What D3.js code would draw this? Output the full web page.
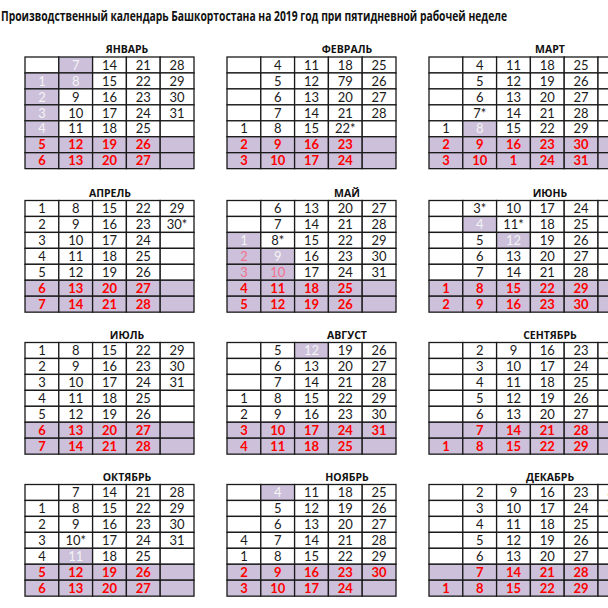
<!DOCTYPE html>
<html>
<head>
<meta charset="utf-8">
<script src="https://cdn.jsdelivr.net/npm/d3@7"></script>
<style>
  html, body { margin: 0; padding: 0; background: #fff; overflow: hidden; }
  svg { display: block; }
</style>
</head>
<body>
<svg id="chart" width="608" height="608"></svg>
<script>
const title = "Производственный календарь Башкортостана на 2019 год при пятидневной рабочей неделе";

const months = ["ЯНВАРЬ", "ФЕВРАЛЬ", "МАРТ", "АПРЕЛЬ", "МАЙ", "ИЮНЬ",
  "ИЮЛЬ", "АВГУСТ", "СЕНТЯБРЬ", "ОКТЯБРЬ", "НОЯБРЬ", "ДЕКАБРЬ"];

// each month: columns (weeks), each column = 7 cells Mon..Sun; "!" marks a holiday
const jan = [["", "1!", "2!", "3!", "4!", "5", "6"], ["7!", "8!", "9", "10", "11", "12", "13"],
  ["14", "15", "16", "17", "18", "19", "20"], ["21", "22", "23", "24", "25", "26", "27"],
  ["28", "29", "30", "31", "", "", ""]];
const feb = [["", "", "", "", "1", "2", "3"], ["4", "5", "6", "7", "8", "9", "10"],
  ["11", "12", "13", "14", "15", "16", "17"], ["18", "79", "20", "21", "22*", "23", "24"],
  ["25", "26", "27", "28", "", "", ""]];
const mar = [["", "", "", "", "1", "2", "3"], ["4", "5", "6", "7*", "8!", "9", "10"],
  ["11", "12", "13", "14", "15", "16", "1"], ["18", "19", "20", "21", "22", "23", "24"],
  ["25", "26", "27", "28", "29", "30", "31"], ["", "", "", "", "", "", ""]];
const apr = [["1", "2", "3", "4", "5", "6", "7"], ["8", "9", "10", "11", "12", "13", "14"],
  ["15", "16", "17", "18", "19", "20", "21"], ["22", "23", "24", "25", "26", "27", "28"],
  ["29", "30*", "", "", "", "", ""]];
const may = [["", "", "1!", "2!", "3!", "4", "5"], ["6", "7", "8*", "9!", "10!", "11", "12"],
  ["13", "14", "15", "16", "17", "18", "19"], ["20", "21", "22", "23", "24", "25", "26"],
  ["27", "28", "29", "30", "31", "", ""]];
const jun = [["", "", "", "", "", "1", "2"], ["3*", "4!", "5", "6", "7", "8", "9"],
  ["10", "11*", "12!", "13", "14", "15", "16"], ["17", "18", "19", "20", "21", "22", "23"],
  ["24", "25", "26", "27", "28", "29", "30"], ["", "", "", "", "", "", ""]];
const jul = [["1", "2", "3", "4", "5", "6", "7"], ["8", "9", "10", "11", "12", "13", "14"],
  ["15", "16", "17", "18", "19", "20", "21"], ["22", "23", "24", "25", "26", "27", "28"],
  ["29", "30", "31", "", "", "", ""]];
const aug = [["", "", "", "1", "2", "3", "4"], ["5", "6", "7", "8", "9", "10", "11"],
  ["12!", "13", "14", "15", "16", "17", "18"], ["19", "20", "21", "22", "23", "24", "25"],
  ["26", "27", "28", "29", "30", "31", ""]];
const sep = [["", "", "", "", "", "", "1"], ["2", "3", "4", "5", "6", "7", "8"],
  ["9", "10", "11", "12", "13", "14", "15"], ["16", "17", "18", "19", "20", "21", "22"],
  ["23", "24", "25", "26", "27", "28", "29"], ["30", "", "", "", "", "", ""]];
const oct = [["", "1", "2", "3", "4", "5", "6"], ["7", "8", "9", "10*", "11!", "12", "13"],
  ["14", "15", "16", "17", "18", "19", "20"], ["21", "22", "23", "24", "25", "26", "27"],
  ["28", "29", "30", "31", "", "", ""]];
const nov = [["", "", "", "4", "1", "2", "3"], ["4!", "5", "6", "7", "8", "9", "10"],
  ["11", "12", "13", "14", "15", "16", "17"], ["18", "19", "20", "21", "22", "23", "24"],
  ["25", "26", "27", "28", "29", "30", ""]];
const dec = [["", "", "", "", "", "", "1"], ["2", "3", "4", "5", "6", "7", "8"],
  ["9", "10", "11", "12", "13", "14", "15"], ["16", "17", "18", "19", "20", "21", "22"],
  ["23", "24", "25", "26", "27", "28", "29"], ["30", "31", "", "", "", "", ""]];

const grids = [jan, feb, mar, apr, may, jun, jul, aug, sep, oct, nov, dec];
const pinkDays = [[4, "2"], [4, "3"], [4, "10"]];
const weekendRows = [5, 6];

// layout
const colW = 33.8, rowH = 15.95;
const blockX = [25, 227, 429];
const blockY = [57, 200.5, 342.5, 484.5];
const labelX = [127, 347, 550];
const purple = "#ccc0da";

const svg = d3.select("#chart");

svg.append("text")
  .attr("x", 1).attr("y", 21)
  .attr("font-family", "Liberation Sans Narrow, Open Sans, sans-serif")
  .attr("font-weight", "bold")
  .attr("font-size", 14)
  .attr("textLength", 506)
  .attr("lengthAdjust", "spacingAndGlyphs")
  .attr("fill", "#111")
  .text(title);

grids.forEach((grid, m) => {
  const bx = blockX[m % 3], by = blockY[Math.floor(m / 3)];
  const x = d3.scaleBand().domain(d3.range(grid.length)).range([bx, bx + colW * grid.length]);
  const y = d3.scaleBand().domain(d3.range(7)).range([by, by + rowH * 7]);
  const g = svg.append("g");

  g.append("text")
    .attr("x", m === 3 ? 110 : labelX[m % 3])
    .attr("y", by - 4)
    .attr("text-anchor", "middle")
    .attr("font-family", "Open Sans, sans-serif")
    .attr("font-weight", "bold")
    .attr("font-size", 10.5)
    .attr("fill", "#111")
    .text(months[m]);

  const cells = [];
  grid.forEach((col, c) => col.forEach((v, r) => {
    const hol = v.endsWith("!");
    const label = hol ? v.slice(0, -1) : v;
    cells.push({ c, r, label, hol, wk: weekendRows.includes(r),
      pink: pinkDays.some(p => p[0] === m && p[1] === label) });
  }));

  const cell = g.selectAll("g.cell").data(cells).join("g").attr("class", "cell");

  cell.append("rect")
    .attr("x", d => x(d.c)).attr("y", d => y(d.r))
    .attr("width", x.bandwidth()).attr("height", y.bandwidth())
    .attr("fill", d => (d.wk || d.hol) ? purple : "#fff")
    .attr("stroke", "#1a1a1a")
    .attr("stroke-width", 1.3);

  cell.append("text")
    .attr("x", d => x(d.c) + x.bandwidth() / 2)
    .attr("y", d => y(d.r) + y.bandwidth() / 2)
    .attr("dy", "0.36em")
    .attr("text-anchor", "middle")
    .attr("font-family", "Lato, Open Sans, sans-serif")
    .attr("font-size", 13)
    .attr("font-weight", d => d.wk ? "bold" : "normal")
    .attr("fill", d => d.wk ? "#ff0000" : d.pink ? "#f07090" : d.hol ? "#f4f4f4" : "#1a1a1a")
    .text(d => d.label);
});
</script>
</body>
</html>
